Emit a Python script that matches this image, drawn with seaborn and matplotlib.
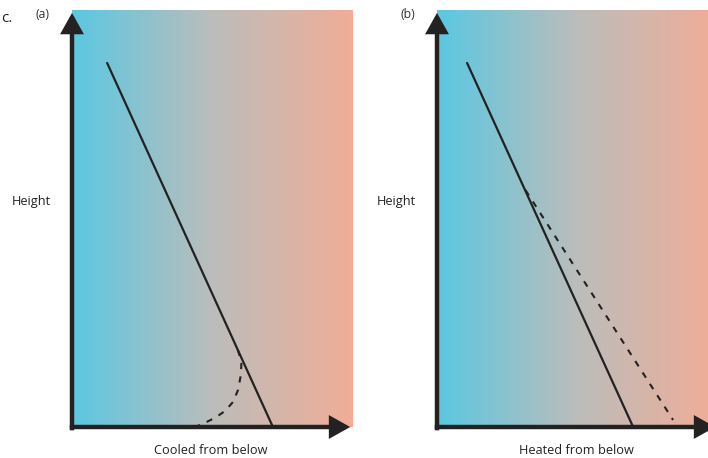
import numpy as np
import matplotlib
matplotlib.use("Agg")
import matplotlib.pyplot as plt
from matplotlib.colors import LinearSegmentedColormap
import seaborn as sns

sns.set_theme(style="white")
plt.rcParams['font.family'] = ['Open Sans', 'DejaVu Sans']

# Data (temperature on x, height on y; arbitrary 0-10 units)
panel_labels = ["(a)", "(b)"]
x_labels = ["Cooled from below", "Heated from below"]
y_label = "Height"

a_env_temp = [1.25, 7.15]
a_env_height = [8.73, 0.0]
a_dash_temp = [5.90, 6.03, 6.01, 5.91, 5.73, 5.44, 5.09, 4.73, 4.38]
a_dash_height = [1.85, 1.56, 1.25, 0.89, 0.60, 0.38, 0.22, 0.10, 0.0]

b_env_temp = [1.07, 6.98]
b_env_height = [8.73, 0.0]
b_dash_temp = [3.15, 8.40]
b_dash_height = [5.68, 0.17]

W, H = 708, 458
fig = plt.figure(figsize=(W / 100, H / 100), dpi=100)

cmap = LinearSegmentedColormap.from_list("tg", ["#5AC8E2", "#BCBDBB", "#F1AD97"])
grad = np.linspace(0, 1, 256).reshape(1, -1)

panels = [
    (72, panel_labels[0], x_labels[0], a_env_temp, a_env_height, a_dash_temp, a_dash_height),
    (437, panel_labels[1], x_labels[1], b_env_temp, b_env_height, b_dash_temp, b_dash_height),
]

axw, axh = 281, 417
bottom_px = 427
arrow_kw = dict(arrowstyle="-|>,head_length=0.75,head_width=0.42", lw=3.2,
                color="#222222", shrinkA=0, shrinkB=0, mutation_scale=14,
                capstyle="butt", joinstyle="miter")
for left_px, plab, xlab, et, eh, dt, dh in panels:
    ax = fig.add_axes([left_px / W, (H - bottom_px) / H, axw / W, axh / H])
    ax.imshow(grad, cmap=cmap, aspect="auto", extent=[0, 10, 0, 10], zorder=0)
    ax.set_xlim(0, 10)
    ax.set_ylim(0, 10)
    sns.lineplot(x=et, y=eh, ax=ax, color="#222222", lw=1.6, sort=False, zorder=3)
    sns.lineplot(x=dt, y=dh, ax=ax, color="#222222", lw=1.5, sort=False,
                 linestyle=(0, (3, 3.5)), zorder=3)
    for s in ax.spines.values():
        s.set_visible(False)
    ax.set_xticks([])
    ax.set_yticks([])
    ax.set_xlabel("")
    ax.set_ylabel("")
    # axes arrows
    ax.annotate("", xy=(0, 0.993), xytext=(0, -0.008), xycoords="axes fraction",
                arrowprops=arrow_kw, annotation_clip=False)
    ax.annotate("", xy=(0.99, 0), xytext=(-0.008, 0), xycoords="axes fraction",
                arrowprops=arrow_kw, annotation_clip=False)
    # texts
    fig.text((left_px - 29) / W, 1 - 15 / H, plab, ha="center", va="center",
             fontsize=8.8, color="#333333")
    fig.text((left_px - 41) / W, 1 - 201 / H, y_label, ha="center", va="center",
             fontsize=9.2, color="#222222")
    fig.text((left_px + 139) / W, 1 - 450 / H, xlab, ha="center", va="center",
             fontsize=9.2, color="#222222")

fig.text(1 / W, 1 - 18 / H, "c.", ha="left", va="center", fontsize=11, color="#222222")

fig.savefig("out.png", dpi=100)
